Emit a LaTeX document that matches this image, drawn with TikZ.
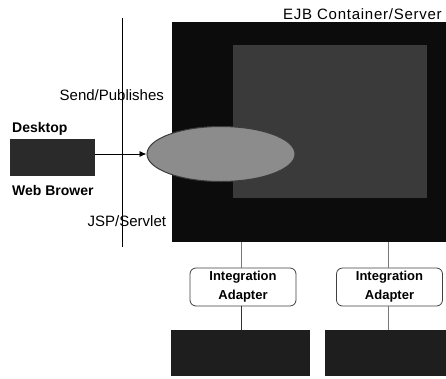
\documentclass[tikz,border=0pt]{standalone}
\usepackage{fontspec}
\setmainfont{Liberation Sans}
\newfontfamily\spacedfont[LetterSpace=5]{Liberation Sans}
\usetikzlibrary{arrows.meta,shapes.geometric}
\definecolor{boxblack}{HTML}{0C0C0C}
\definecolor{innergray}{HTML}{3A3A3A}
\definecolor{ellgray}{HTML}{8C8C8C}
\definecolor{ellline}{HTML}{3C3C3C}
\definecolor{deskgray}{HTML}{2A2A2A}
\definecolor{sysgray}{HTML}{1E1E1E}
\definecolor{linkgray}{HTML}{777777}
\tikzset{
  lbl/.style={inner sep=0pt, anchor=base west, font=\fontsize{15}{18}\selectfont},
  blbl/.style={inner sep=0pt, anchor=base west, font=\bfseries\fontsize{14}{17}\selectfont},
  adapter/.style={draw=black!75, fill=white, rounded corners=6pt, line width=0.8pt,
    minimum width=106pt, minimum height=38pt, inner sep=0pt, align=center,
    font=\bfseries\fontsize{13}{19}\selectfont},
  darkbox/.style={fill=sysgray, draw=none, inner sep=0pt},
  link/.style={draw=linkgray, line width=0.8pt},
  dlink/.style={draw=black!80, line width=0.8pt},
}
\begin{document}
\begin{tikzpicture}[x=1pt,y=-1pt]
\useasboundingbox (0,0) rectangle (446,378);
% EJB container
\node[fill=boxblack, inner sep=0pt, minimum width=276pt, minimum height=220pt, anchor=north west] (container) at (172,22) {};
\node[fill=innergray, inner sep=0pt, minimum width=194pt, minimum height=153pt, anchor=north west] (inner) at (233,45) {};
\node[ellipse, fill=ellgray, draw=ellline, line width=1pt, minimum width=148pt, minimum height=55pt, inner sep=0pt] (ell) at (221,154) {};
\node[inner sep=0pt, anchor=base west, font=\spacedfont\fontsize{15}{18}\selectfont] (ejb) at (283,19) {EJB Container/Server};
% vertical divider
\coordinate (vtop) at (122,18);
\coordinate (vbot) at (122,247);
\draw[line width=0.9pt] (vtop) -- (vbot);
% desktop
\node[fill=deskgray, inner sep=0pt, minimum width=85pt, minimum height=37pt, anchor=north west] (desktop) at (10,139) {};
\node[blbl] (dlabel) at (12,132) {Desktop};
\node[blbl] (wlabel) at (12,195) {Web Brower};
\draw[line width=0.9pt, -{Latex[length=7pt,width=6pt]}] (desktop.east |- ell.west) -- (ell.west);
\node[lbl] (send) at (59.5,100.5) {Send/Publishes};
\node[lbl] (jsp) at (87.5,226.5) {JSP/Servlet};
% adapters
\node[adapter] (adL) at (243,287) {Integration\\Adapter};
\node[adapter] (adR) at (389.5,287) {Integration\\Adapter};
% backend systems
\node[darkbox, minimum width=139pt, minimum height=46pt, anchor=north west] (sysL) at (171,330) {};
\node[darkbox, minimum width=121pt, minimum height=46pt, anchor=north west] (sysR) at (325,330) {};
% links
\draw[link] (adL.north -| 241.5,0) -- (241.5,0 |- container.south);
\draw[link] (adR.north -| 388,0) -- (388,0 |- container.south);
\draw[dlink] (adL.south -| 241,0) -- (241,0 |- sysL.north);
\draw[link] (adR.south -| 388,0) -- (388,0 |- sysR.north);
\end{tikzpicture}
\end{document}
